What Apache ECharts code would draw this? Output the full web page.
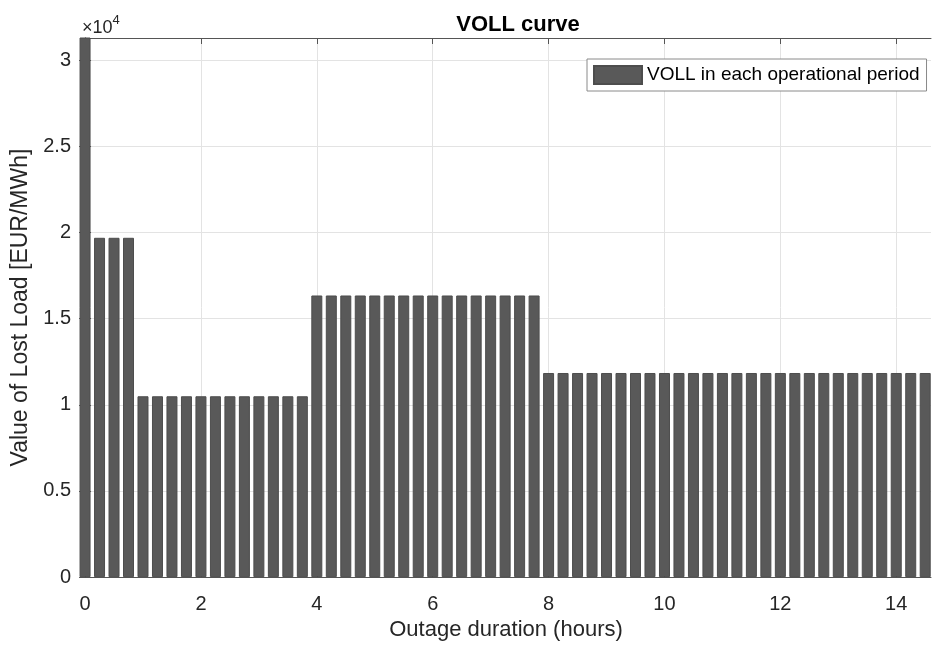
<!DOCTYPE html>
<html>
<head>
<meta charset="utf-8">
<script src="https://cdn.jsdelivr.net/npm/echarts@6/dist/echarts.min.js"></script>
<style>html,body{margin:0;padding:0;background:#fff;}#c{width:933px;height:646px;}</style>
</head>
<body>
<div id="c"></div>
<script>
// Outage duration (hours), 15-minute operational periods
const durations = [0, 0.25, 0.5, 0.75, 1, 1.25, 1.5, 1.75, 2, 2.25, 2.5, 2.75, 3, 3.25, 3.5, 3.75,
  4, 4.25, 4.5, 4.75, 5, 5.25, 5.5, 5.75, 6, 6.25, 6.5, 6.75, 7, 7.25, 7.5, 7.75,
  8, 8.25, 8.5, 8.75, 9, 9.25, 9.5, 9.75, 10, 10.25, 10.5, 10.75, 11, 11.25, 11.5, 11.75,
  12, 12.25, 12.5, 12.75, 13, 13.25, 13.5, 13.75, 14, 14.25, 14.5];
// VOLL in each operational period [EUR/MWh]
const voll = [32000, 19700, 19700, 19700,
  10500, 10500, 10500, 10500, 10500, 10500, 10500, 10500, 10500, 10500, 10500, 10500,
  16350, 16350, 16350, 16350, 16350, 16350, 16350, 16350, 16350, 16350, 16350, 16350, 16350, 16350, 16350, 16350,
  11850, 11850, 11850, 11850, 11850, 11850, 11850, 11850, 11850, 11850, 11850, 11850, 11850, 11850, 11850, 11850,
  11850, 11850, 11850, 11850, 11850, 11850, 11850, 11850, 11850, 11850, 11850];
const xTicks = [0, 2, 4, 6, 8, 10, 12, 14];
const yTicks = [0, 5000, 10000, 15000, 20000, 25000, 30000];

const chart = echarts.init(document.getElementById('c'));
const font = 'Liberation Sans, Arial, Helvetica, sans-serif';
const axisColor = '#555555';
const textColor = '#262626';
const gridColor = '#e3e3e3';

const xMin = -0.07, xMax = 14.6, yMax = 31300;

function xAxisDef(top) {
  return {
    type: 'value', min: xMin, max: xMax, position: top ? 'top' : 'bottom',
    axisLine: { show: true, onZero: false, lineStyle: { color: axisColor, width: 1 } },
    axisTick: { show: true, inside: true, length: 6, customValues: xTicks, lineStyle: { color: axisColor } },
    axisLabel: top ? { show: false, customValues: xTicks } : {
      show: true, customValues: xTicks, color: textColor, fontSize: 20, fontFamily: font, margin: 17
    },
    splitLine: { show: !top, lineStyle: { color: gridColor, width: 1 } },
    name: top ? '' : 'Outage duration (hours)',
    nameLocation: 'middle', nameGap: 40,
    nameTextStyle: { color: textColor, fontSize: 22, fontFamily: font }
  };
}
function yAxisDef(right) {
  return {
    type: 'value', min: 0, max: yMax, position: right ? 'right' : 'left',
    axisLine: { show: true, lineStyle: { color: axisColor, width: 1 } },
    axisTick: { show: true, inside: true, length: 6, customValues: yTicks, lineStyle: { color: axisColor } },
    axisLabel: right ? { show: false, customValues: yTicks } : {
      show: true, customValues: yTicks, color: textColor, fontSize: 20, fontFamily: font, margin: 10,
      formatter: v => String(v / 10000)
    },
    splitLine: { show: !right, lineStyle: { color: gridColor, width: 1 } },
    name: right ? '' : 'Value of Lost Load [EUR/MWh]',
    nameLocation: 'middle', nameGap: 46,
    nameTextStyle: { color: textColor, fontSize: 23, fontFamily: font }
  };
}

chart.setOption({
  animation: false,
  backgroundColor: '#ffffff',
  title: {
    text: 'VOLL curve', left: 513, top: 9, textAlign: 'center',
    textStyle: { fontFamily: font, fontSize: 22, fontWeight: 'bold', color: '#000' }
  },
  grid: { left: 81, right: 2, top: 38, bottom: 67, containLabel: false },
  legend: {
    data: ['VOLL in each operational period'],
    left: 587, top: 59, orient: 'vertical',
    icon: 'rect',
    itemWidth: 48, itemHeight: 18, itemGap: 4,
    padding: [6, 7, 6, 6],
    borderColor: '#8a8a8a', borderWidth: 1, backgroundColor: '#fff',
    textStyle: { fontFamily: font, fontSize: 19, color: '#000' }
  },
  xAxis: [xAxisDef(false), xAxisDef(true)],
  yAxis: [yAxisDef(false), yAxisDef(true)],
  graphic: [{
    type: 'text', left: 82, top: 14,
    style: {
      text: '{a|×10}{b|4}', fill: textColor,
      rich: {
        a: { fontFamily: font, fontSize: 18, color: textColor, verticalAlign: 'bottom' },
        b: { fontFamily: font, fontSize: 13, color: textColor, verticalAlign: 'top', padding: [0, 0, 10, 0] }
      }
    }
  }],
  series: [{
    name: 'VOLL in each operational period',
    type: 'bar',
    xAxisIndex: 0, yAxisIndex: 0,
    data: durations.map((d, i) => [d, voll[i]]),
    barWidth: 11,
    clip: true,
    itemStyle: { color: '#595959', borderColor: '#4d4d4d', borderWidth: 1 }
  }]
});
</script>
</body>
</html>
